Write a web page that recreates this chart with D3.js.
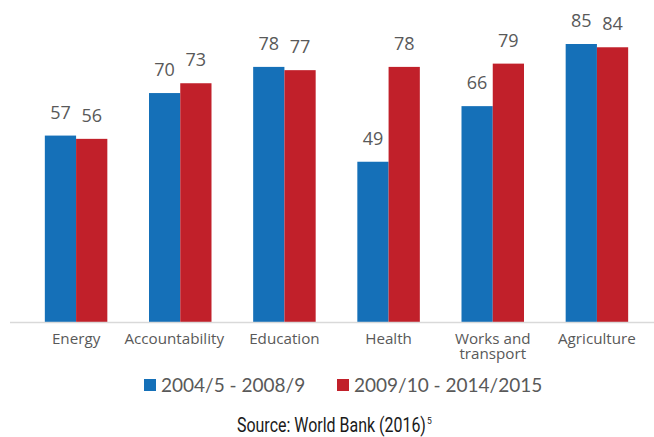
<!DOCTYPE html>
<html><head><meta charset="utf-8">
<script src="https://cdn.jsdelivr.net/npm/d3@7"></script>
<style>body{margin:0;background:#fff}svg{display:block}</style>
</head><body>
<svg id="c" width="654" height="437"></svg>
<script>
const categories = ["Energy", "Accountability", "Education", "Health", "Works and\ntransport", "Agriculture"];
const seriesNames = ["2004/5 - 2008/9", "2009/10 - 2014/2015"];
const series1 = [57, 70, 78, 49, 66, 85];
const series2 = [56, 73, 77, 78, 79, 84];
const colors = ["#1570b8", "#c1202a"];
const sourceText = "Source: World Bank (2016)";
const sourceSup = "5";

const svg = d3.select("#c");
const baseY = 322;
const x = d3.scaleBand().domain(categories).range([24, 649]).paddingInner(0.4).paddingOuter(0.2);
const x1 = d3.scaleBand().domain([0, 1]).range([0, x.bandwidth()]);
const y = d3.scaleLinear().domain([0, 85]).range([baseY, 44]);
const font = "Lato, 'Open Sans', sans-serif";
const catFont = "'Open Sans', Lato, sans-serif";
const textCol = "#595959";

const data = categories.map((c, i) => ({c, vals: [series1[i], series2[i]]}));
const g = svg.append("g");
data.forEach(d => {
  d.vals.forEach((v, k) => {
    const bx = x(d.c) + x1(k);
    g.append("rect").attr("x", bx).attr("y", y(v)).attr("width", x1.bandwidth()).attr("height", baseY - y(v)).attr("fill", colors[k]);
    g.append("text").attr("x", bx + x1.bandwidth() / 2).attr("y", y(v) - 17)
      .attr("text-anchor", "middle").attr("font-family", catFont).attr("font-size", 18).attr("fill", textCol).text(v);
  });
});

// axis
const axis = d3.axisBottom(x).tickSize(0).tickFormat("");
const ax = svg.append("g").attr("transform", `translate(0,${baseY})`).call(axis);
ax.select(".domain").remove();
svg.append("line").attr("x1", 10).attr("x2", 654).attr("y1", baseY + 0.5).attr("y2", baseY + 0.5).attr("stroke", "#d9d9d9").attr("stroke-width", 1.5);
const nudge = c => (c === "Accountability" ? -6 : 0);
categories.forEach(c => {
  const lines = c.split("\n");
  const t = svg.append("text").attr("text-anchor", "middle").attr("font-family", catFont).attr("font-size", 15.2).attr("fill", textCol);
  lines.forEach((l, i) => t.append("tspan").attr("x", x(c) + x.bandwidth() / 2 + nudge(c)).attr("y", 344 + i * 15).text(l));
});

// legend
const leg = [{x: 144, t: seriesNames[0]}, {x: 337, t: seriesNames[1]}];
leg.forEach((l, i) => {
  svg.append("rect").attr("x", l.x).attr("y", 379).attr("width", 12).attr("height", 12).attr("fill", colors[i]);
  svg.append("text").attr("x", l.x + 17).attr("y", 392).attr("font-family", font).attr("font-size", 19).attr("fill", textCol).text(l.t);
});

// source (condensed look via horizontal scale)
const src = svg.append("text").attr("font-family", "Roboto, sans-serif").attr("font-size", 19.5).attr("fill", "#1a1a1a").text(sourceText);
const w = src.node().getComputedTextLength();
src.attr("transform", `translate(237,432) scale(${189 / w},1)`);
svg.append("text").attr("x", 427).attr("y", 424).attr("font-family", "Roboto, sans-serif").attr("font-size", 8.5).attr("fill", "#1a1a1a").text(sourceSup);
</script>
</body></html>
